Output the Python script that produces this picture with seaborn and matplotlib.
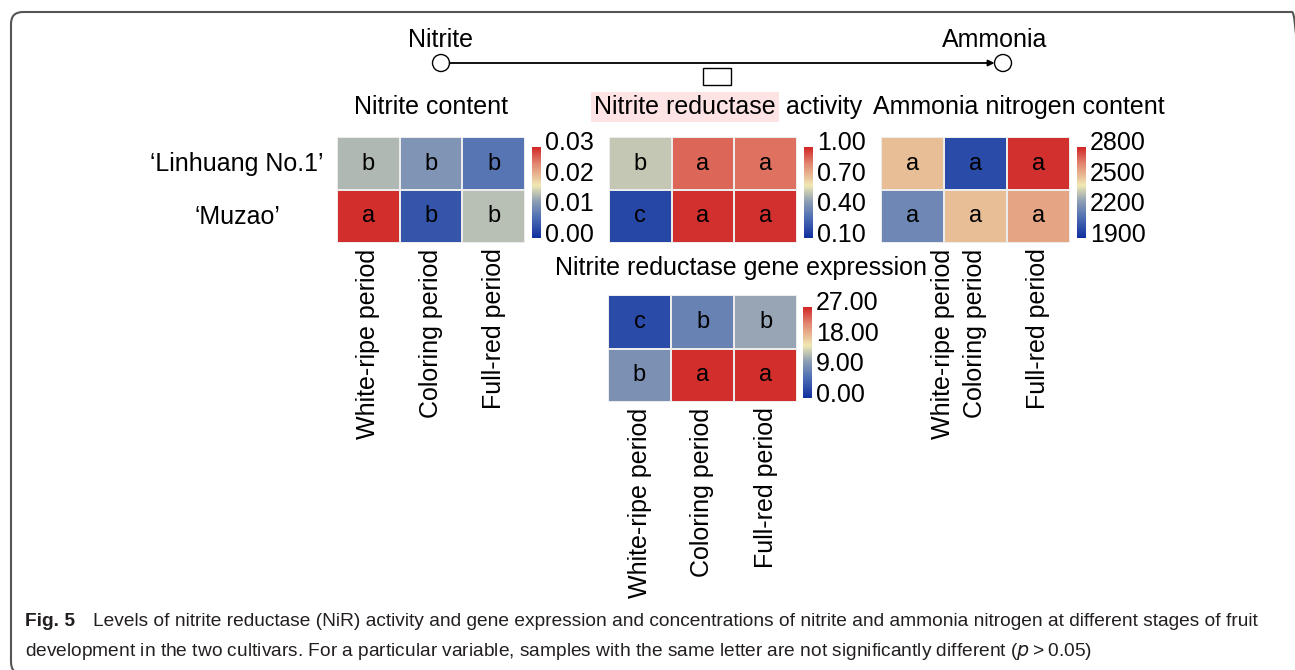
import numpy as np
import pandas as pd
import matplotlib
matplotlib.use("Agg")
import matplotlib.pyplot as plt
import seaborn as sns
from matplotlib.colors import LinearSegmentedColormap
from matplotlib.patches import FancyBboxPatch, Circle, Rectangle, FancyArrowPatch
from matplotlib.transforms import ScaledTranslation

sns.set_theme(style="white")
plt.rcParams["font.family"] = ["Liberation Sans", "DejaVu Sans"]
plt.rcParams["text.color"] = "black"
plt.rcParams["xtick.color"] = "black"
plt.rcParams["ytick.color"] = "black"

# ---- data -------------------------------------------------------------
cultivars = ["\u2018Linhuang No.1\u2019", "\u2018Muzao\u2019"]
periods = ["White-ripe period", "Coloring period", "Full-red period"]

nitrite_content = [[0.014, 0.011, 0.0075],
                   [0.0295, 0.004, 0.0145]]
nitrite_letters = [["b", "b", "b"], ["a", "b", "b"]]
nitrite_ticks = [0.00, 0.01, 0.02, 0.03]

nir_activity = [[0.55, 0.89, 0.87],
                [0.18, 0.98, 0.98]]
nir_letters = [["b", "a", "a"], ["c", "a", "a"]]
nir_ticks = [0.10, 0.40, 0.70, 1.00]

ammonia_content = [[2510, 1990, 2782],
                   [2188, 2510, 2565]]
ammonia_letters = [["a", "a", "a"], ["a", "a", "a"]]
ammonia_ticks = [1900, 2200, 2500, 2800]

gene_expression = [[2.7, 8.1, 11.3],
                   [9.5, 26.5, 26.5]]
gene_letters = [["c", "b", "b"], ["b", "a", "a"]]
gene_ticks = [0.00, 9.00, 18.00, 27.00]

# ---- figure -----------------------------------------------------------
W, H = 1295, 670
fig = plt.figure(figsize=(W / 100, H / 100), dpi=100)
fig.patch.set_facecolor("white")

cmap = LinearSegmentedColormap.from_list(
    "bgyr",
    [(0.00, "#0f2f9f"), (0.22, "#4d6db3"), (0.40, "#8c9db5"),
     (0.50, "#c2c6b4"), (0.58, "#f1e9b2"), (0.68, "#e8bd96"),
     (0.82, "#e28570"), (1.00, "#d02626")])


def fx(px):
    return px / W


def fy(py):
    return 1 - py / H


def panel(rect, cbrect, values, letters, ticks, fmt, ylabels=False,
          xlabels=True, xtick_pos=None):
    ax = fig.add_axes(rect)
    cax = fig.add_axes(cbrect)
    df = pd.DataFrame(values, index=cultivars, columns=periods)
    sns.heatmap(df, ax=ax, cbar_ax=cax, cmap=cmap, vmin=ticks[0],
                vmax=ticks[-1], annot=np.array(letters), fmt="",
                annot_kws={"fontsize": 17, "color": "black"},
                linewidths=1.2, linecolor="#ececec",
                cbar_kws={"ticks": ticks})
    if xlabels:
        if xtick_pos is None:
            xtick_pos = [i + 0.5 for i in range(len(periods))]
        ax.set_xticks(xtick_pos)
        ax.set_xticklabels(periods, rotation=90, fontsize=18, va="top",
                           ha="center")
        ax.tick_params(axis="x", length=0, pad=4)
    else:
        ax.set_xticks([])
    ax.set_xlabel("")
    ax.set_ylabel("")
    if ylabels:
        ax.set_yticklabels(cultivars, rotation=0, fontsize=18, ha="center")
        ax.tick_params(axis="y", length=0, pad=72)
    else:
        ax.set_yticks([])
    cbar = ax.collections[0].colorbar
    cbar.outline.set_visible(False)
    cax.set_yticks(ticks)
    cax.set_yticklabels([fmt.format(t) for t in ticks], fontsize=18)
    cax.tick_params(length=0, pad=3)
    shift = ScaledTranslation(0, 6 / 100, fig.dpi_scale_trans)
    for lab in cax.get_yticklabels():
        lab.set_transform(lab.get_transform() + shift)
    return ax


hm_h = 106 / H
cb_h = 91 / H
panel([fx(337), fy(243), 188 / W, hm_h], [fx(532), fy(238), 9 / W, cb_h],
      nitrite_content, nitrite_letters, nitrite_ticks, "{:.2f}",
      ylabels=True)
panel([fx(609), fy(243), 188 / W, hm_h], [fx(804), fy(238), 9 / W, cb_h],
      nir_activity, nir_letters, nir_ticks, "{:.2f}", xlabels=False)
panel([fx(881), fy(243), 189 / W, hm_h], [fx(1077), fy(238), 9 / W, cb_h],
      ammonia_content, ammonia_letters, ammonia_ticks, "{:.0f}",
      xtick_pos=[0.99, 1.5, 2.5])
panel([fx(608), fy(402), 189 / W, 107 / H], [fx(803), fy(398), 9 / W, cb_h],
      gene_expression, gene_letters, gene_ticks, "{:.2f}")

# ---- panel titles -----------------------------------------------------
fig.text(fx(431), fy(107), "Nitrite content", fontsize=18, ha="center",
         va="center")
fig.text(fx(594), fy(107), "Nitrite reductase", fontsize=18, ha="left",
         va="center",
         bbox=dict(boxstyle="square,pad=0.12", facecolor="#fde3e3",
                   edgecolor="none"))
fig.text(fx(786), fy(107), "activity", fontsize=18, ha="left", va="center")
fig.text(fx(873), fy(107), "Ammonia nitrogen content", fontsize=18,
         ha="left", va="center")
fig.text(fx(555), fy(268), "Nitrite reductase gene expression", fontsize=18,
         ha="left", va="center")

# ---- reaction scheme --------------------------------------------------
fig.text(fx(441), fy(40), "Nitrite", fontsize=18, ha="center", va="center")
fig.text(fx(995), fy(40), "Ammonia", fontsize=18, ha="center", va="center")
r = 8.5
for cx in (441, 1003):
    fig.add_artist(Circle((cx, H - 63), r, transform=None, facecolor="white",
                          edgecolor="black", lw=1.0))
fig.add_artist(FancyArrowPatch((441 + r, H - 63), (1003 - r, H - 63),
                               transform=None, arrowstyle="-|>",
                               mutation_scale=9, lw=1.3, color="black",
                               shrinkA=0, shrinkB=0))
fig.add_artist(Rectangle((703, H - 85), 28, 17, transform=None,
                         facecolor="white", edgecolor="black", lw=1.0))

# ---- caption ----------------------------------------------------------
cap_font = ["Liberation Sans Narrow", "Liberation Sans", "DejaVu Sans"]
cap_size = 13.8
fig.text(fx(25), fy(622), "Fig. 5", fontsize=cap_size, fontweight="bold",
         family=cap_font, color="#231f20", ha="left", va="center")
fig.text(fx(93), fy(622),
         "Levels of nitrite reductase (NiR) activity and gene expression and "
         "concentrations of nitrite and ammonia nitrogen at different stages "
         "of fruit", fontsize=cap_size, family=cap_font, color="#231f20",
         ha="left", va="center")
fig.text(fx(25), fy(651),
         "development in the two cultivars. For a particular variable, samples "
         "with the same letter are not significantly different ($p$\u2009>\u20090.05)",
         fontsize=cap_size, family=cap_font, color="#231f20", ha="left",
         va="center")

# ---- frame ------------------------------------------------------------
fig.add_artist(FancyBboxPatch((11, -4), 1304 - 11, H - 12 + 4,
                              boxstyle="round,pad=0,rounding_size=12",
                              transform=None, facecolor="none",
                              edgecolor="#555555", lw=1.5))

fig.savefig("out.png", dpi=100, facecolor="white")
